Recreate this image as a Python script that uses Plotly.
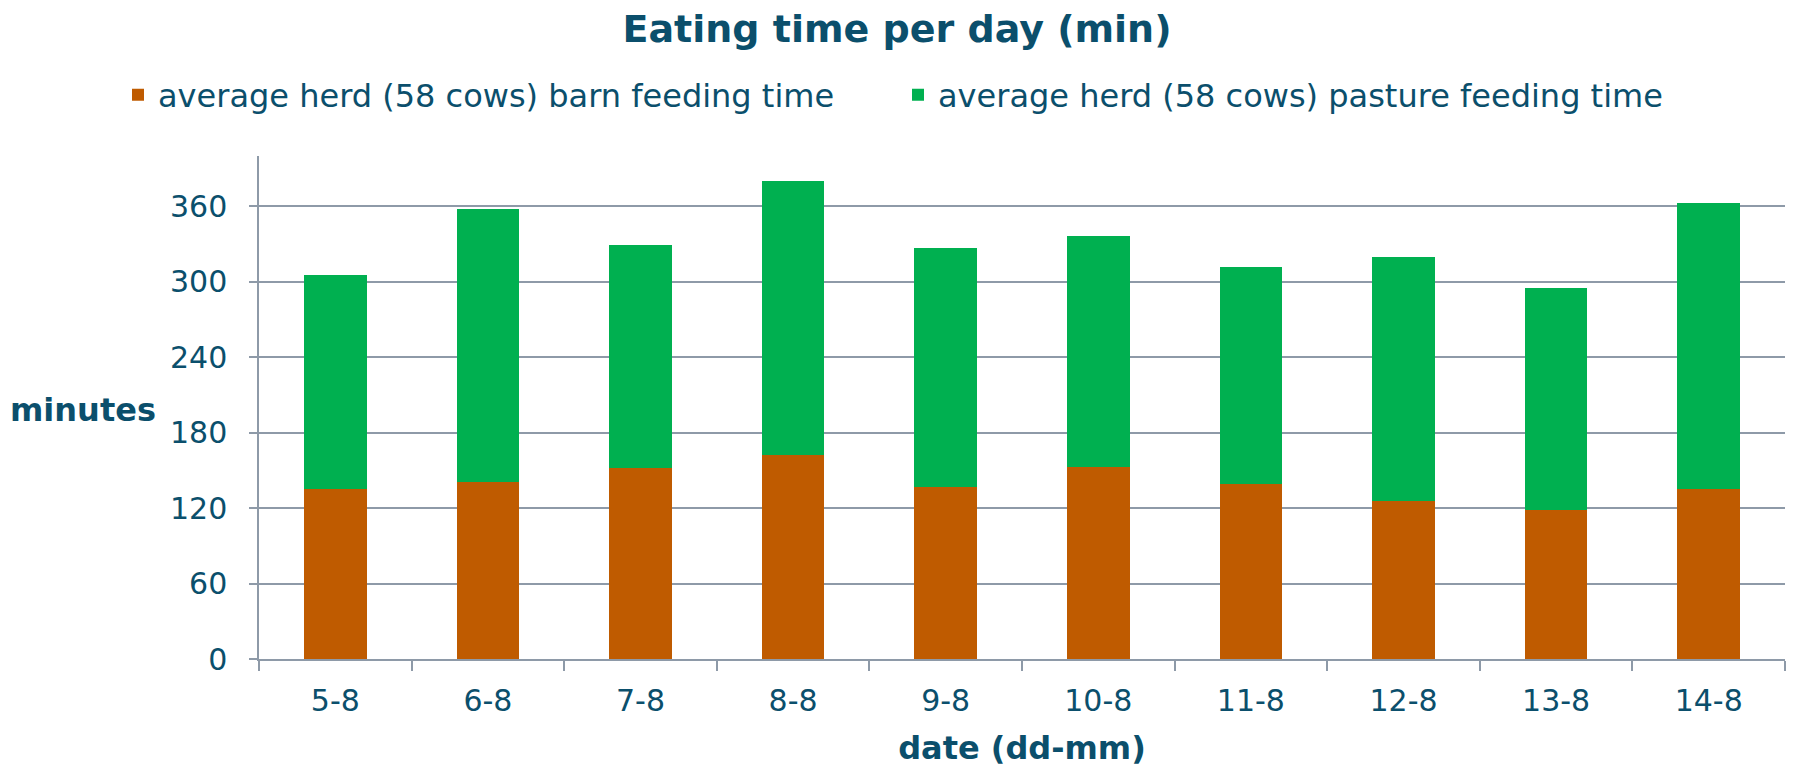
import plotly.graph_objects as go

dates = ["5-8", "6-8", "7-8", "8-8", "9-8", "10-8", "11-8", "12-8", "13-8", "14-8"]
barn = [135.5, 141, 151.5, 162.5, 137, 153, 139, 126, 118.5, 135]
pasture = [170, 216.5, 177.5, 218, 189.5, 183, 172.5, 193.5, 176.5, 228]
yticks = [0, 60, 120, 180, 240, 300, 360]

TXT = "#0b4f6c"
GRID = "#8e9aa8"
FONT = "DejaVu Sans"

fig = go.Figure()
fig.add_trace(go.Bar(x=dates, y=barn, name="average herd (58 cows) barn feeding time",
                     marker=dict(color="#bf5b00", line=dict(width=0))))
fig.add_trace(go.Bar(x=dates, y=pasture, name="average herd (58 cows) pasture feeding time",
                     marker=dict(color="#00b050", line=dict(width=0))))

fig.update_layout(
    barmode="stack",
    bargap=0.59,
    width=1794, height=768,
    margin=dict(l=259, r=9, t=156, b=109),
    paper_bgcolor="white", plot_bgcolor="white",
    font=dict(family=FONT, color=TXT, size=30),
    title=dict(text="<b>Eating time per day (min)</b>", x=0.5, xref="container",
               y=1 - 29 / 768, yref="container", yanchor="middle",
               font=dict(size=38, color=TXT, family=FONT)),
    legend=dict(orientation="h", xref="paper", yref="paper",
                x=(118 - 259) / 1526, y=(659 - 95) / 503, xanchor="left", yanchor="middle",
                font=dict(size=32, color=TXT), entrywidth=735, entrywidthmode="pixels",
                itemsizing="constant", traceorder="normal", itemwidth=30),
    showlegend=True,
)
fig.update_xaxes(
    type="category",
    showline=True, linecolor=GRID, linewidth=1.5,
    ticks="outside", tickson="boundaries", ticklen=10, tickcolor=GRID, tickwidth=1.5,
    ticklabelstandoff=14,
    tickfont=dict(size=30, color=TXT, family=FONT),
    title=dict(text="<b>date (dd-mm)</b>", font=dict(size=32, color=TXT, family=FONT), standoff=20),
    showgrid=False,
)
fig.update_yaxes(
    range=[0, 400], tickvals=yticks, ticktext=[str(v) for v in yticks],
    showline=True, linecolor=GRID, linewidth=1.5,
    showgrid=True, gridcolor=GRID, gridwidth=1.5,
    zeroline=False,
    ticks="outside", ticklen=8, tickcolor=GRID, tickwidth=1.5,
    ticklabelstandoff=16,
    tickfont=dict(size=30, color=TXT, family=FONT),
)
fig.add_annotation(text="<b>minutes</b>", xref="paper", yref="paper",
                   x=(83 - 259) / 1526, y=(659 - 410) / 503, showarrow=False,
                   xanchor="center", yanchor="middle",
                   font=dict(size=32, color=TXT, family=FONT))

fig.write_html("out.html")
